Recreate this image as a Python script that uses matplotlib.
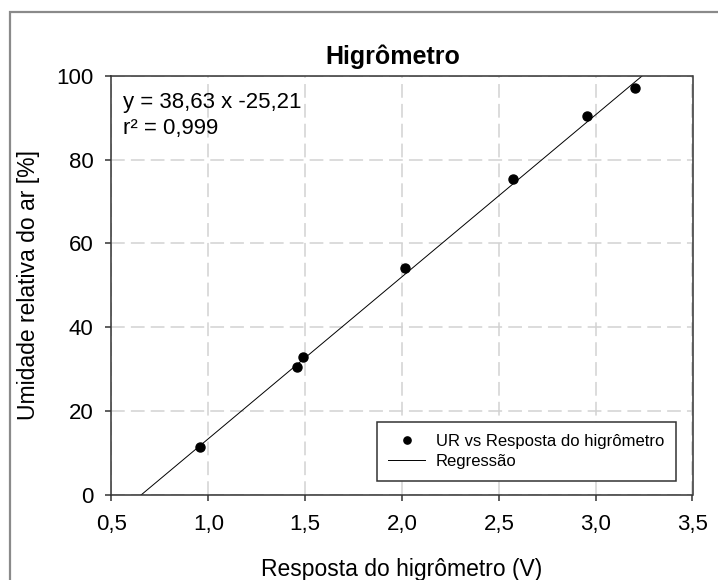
import matplotlib
matplotlib.use("Agg")
import matplotlib.pyplot as plt
import matplotlib.ticker as mticker
from matplotlib.patches import Rectangle

plt.rcParams["font.family"] = ["Liberation Sans", "DejaVu Sans"]

# Dados
resposta_v = [0.955, 1.457, 1.487, 2.017, 2.573, 2.955, 3.205]
umidade = [11.5, 30.6, 33.0, 54.1, 75.4, 90.3, 97.0]

# Regressão (coeficientes do texto)
slope = 38.63
intercept = -25.21
reg_y = [0.0, 100.0]

x_ticks = [0.5, 1.0, 1.5, 2.0, 2.5, 3.0, 3.5]
y_ticks = [0, 20, 40, 60, 80, 100]

GRID_COLOR = "#d2d2d2"
W, H = 718, 580


def _fmt_comma(x, pos):
    return f"{x:.1f}".replace(".", ",")


fig = plt.figure(figsize=(W / 100, H / 100), dpi=100)
ax = fig.add_axes([111.5 / W, (H - 495) / H, (692.5 - 111.5) / W, (495 - 75.7) / H])

# moldura cinza da figura (cortada à direita e embaixo)
fig.patches.append(Rectangle((10 / W, -0.1), 1.2, (H - 12) / H + 0.1,
                             transform=fig.transFigure, fill=False,
                             edgecolor="#8a8a8a", linewidth=1.6, clip_on=False))

reg_x = [(y - intercept) / slope for y in reg_y]
ax.plot(resposta_v, umidade, linestyle="none", marker="o", markersize=6.5,
        color="black", label="UR vs Resposta do higrômetro", zorder=3)
ax.plot(reg_x, reg_y, color="black", linewidth=0.7, label="Regressão", zorder=2)

ax.set_xlim(0.5, 3.5)
ax.set_ylim(0, 100)
ax.xaxis.set_major_locator(mticker.FixedLocator(x_ticks))
ax.yaxis.set_major_locator(mticker.FixedLocator(y_ticks))
ax.xaxis.set_major_formatter(mticker.FuncFormatter(_fmt_comma))
ax.tick_params(axis="both", direction="out", length=4, width=1.1,
               labelsize=16, color="#333333")
ax.tick_params(axis="x", pad=10)
ax.tick_params(axis="y", pad=9)

ax.grid(True, color=GRID_COLOR, linestyle=(0, (9, 4)), linewidth=1.1)
ax.set_axisbelow(True)
for sp in ax.spines.values():
    sp.set_linewidth(1.1)
    sp.set_color("#333333")

ax.set_xlabel("Resposta do higrômetro (V)", fontsize=16.5, labelpad=16)
ax.set_ylabel("Umidade relativa do ar [%]", fontsize=16.5, labelpad=12)

fig.text(393 / W, (H - 64) / H, "Higrômetro", fontsize=18, fontweight="bold",
         ha="center", va="baseline")

ax.text(0.02, 0.923, "y = 38,63 x -25,21", transform=ax.transAxes,
        fontsize=16, va="baseline", ha="left")
ax.text(0.02, 0.861, "r² = 0,999", transform=ax.transAxes,
        fontsize=16, va="baseline", ha="left")

leg = ax.legend(loc="lower right", bbox_to_anchor=(0.9716, 0.0334),
                borderaxespad=0, fontsize=12, frameon=True, fancybox=False,
                handlelength=2.2, handletextpad=0.65, labelspacing=0.32,
                borderpad=0.7, markerscale=0.8)
leg.get_frame().set_edgecolor("#333333")
leg.get_frame().set_linewidth(1.1)
leg.get_frame().set_alpha(1)

fig.savefig("out.png", dpi=100)
